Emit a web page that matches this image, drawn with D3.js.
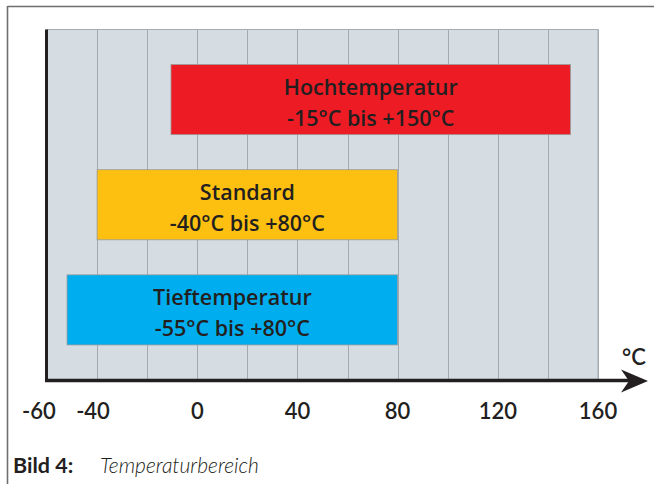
<!DOCTYPE html>
<html>
<head>
<meta charset="utf-8">
<script src="https://cdn.jsdelivr.net/npm/d3@7"></script>
<style>
  html, body { margin: 0; padding: 0; background: #fff; }
  svg { display: block; }
  text { font-family: Lato, "Open Sans", sans-serif; fill: #231f20; }
</style>
</head>
<body>
<svg id="chart" width="654" height="484"></svg>
<script>
// ---- data ----
const categories = ["Hochtemperatur", "Standard", "Tieftemperatur"];
const rangeLabels = ["-15°C bis +150°C", "-40°C bis +80°C", "-55°C bis +80°C"];
const barStart = [-10.5, -40, -52];
const barEnd = [149, 80, 80];
const tickValues = [-60, -40, 0, 40, 80, 120, 160];
const gridValues = [-40, -20, 0, 20, 40, 60, 80, 100, 120, 140, 160];
const unitLabel = "°C";
const captionNumber = "Bild 4:";
const captionText = "Temperaturbereich";

const svg = d3.select("#chart");
const color = d3.scaleOrdinal().domain(categories).range(["#ed1c24", "#fdc010", "#00aeef"]);

const x = d3.scaleLinear().domain([-60, 160]).range([47, 598]);
const y = d3.scaleBand().domain(categories).range([29.5, 380]).padding(1 / 3);

// frame
svg.append("line").attr("x1", 7.5).attr("x2", 654).attr("y1", 6.5).attr("y2", 6.5)
  .attr("stroke", "#6d6e71").attr("stroke-width", 1.6);
svg.append("line").attr("x1", 7.5).attr("x2", 7.5).attr("y1", 6).attr("y2", 484)
  .attr("stroke", "#6d6e71").attr("stroke-width", 1.6);

// plot background
svg.append("rect").attr("x", x(-60)).attr("y", 29.5)
  .attr("width", x(160) - x(-60)).attr("height", 380 - 29.5)
  .attr("fill", "#d5dde3").attr("stroke", "#a4aaaf").attr("stroke-width", 1);

// grid
svg.append("g").selectAll("line").data(gridValues).join("line")
  .attr("x1", d => Math.round(x(d)) + 0.5).attr("x2", d => Math.round(x(d)) + 0.5)
  .attr("y1", 29.5).attr("y2", 380)
  .attr("stroke", "#a4aaaf").attr("stroke-width", 1);

// bars
const bars = svg.append("g").selectAll("g").data(categories).join("g");
bars.append("rect")
  .attr("x", (d, i) => x(barStart[i]))
  .attr("y", d => y(d))
  .attr("width", (d, i) => x(barEnd[i]) - x(barStart[i]))
  .attr("height", y.bandwidth())
  .attr("fill", d => color(d))
  .attr("stroke", "#9a9a9a").attr("stroke-width", 0.8);
bars.append("text")
  .attr("x", (d, i) => (x(barStart[i]) + x(barEnd[i])) / 2)
  .attr("y", d => y(d) + 30)
  .attr("text-anchor", "middle")
  .style("font-family", "'Open Sans', Lato, sans-serif")
  .attr("font-size", 21.5).attr("font-weight", 600)
  .text(d => d);
bars.append("text")
  .attr("x", (d, i) => (x(barStart[i]) + x(barEnd[i])) / 2)
  .attr("y", d => y(d) + 61)
  .attr("text-anchor", "middle")
  .style("font-family", "'Open Sans', Lato, sans-serif")
  .attr("font-size", 21.5).attr("font-weight", 600)
  .text((d, i) => rangeLabels[i]);

// y axis line
svg.append("line").attr("x1", 46.5).attr("x2", 46.5).attr("y1", 29.5).attr("y2", 382)
  .attr("stroke", "#231f20").attr("stroke-width", 3);

// x axis with arrow
svg.append("line").attr("x1", 45).attr("x2", 632).attr("y1", 380.5).attr("y2", 380.5)
  .attr("stroke", "#231f20").attr("stroke-width", 3.5);
svg.append("path")
  .attr("d", "M648,381 L621,369.5 L629,381 L621,392.5 Z")
  .attr("fill", "#231f20");

// tick labels
const ticks = svg.append("g").selectAll("text").data(tickValues).join("text")
  .attr("x", d => x(d))
  .attr("y", 419)
  .attr("text-anchor", "middle")
  .attr("font-size", 22).attr("font-weight", 600)
  .text(d => d < 0 ? "-" + Math.abs(d) : String(d));
// center digits on the tick, letting minus sign hang left
ticks.each(function(d) {
  if (d < 0) {
    const full = this.getComputedTextLength();
    const t = svg.append("text").attr("font-size", 22).attr("font-weight", 600).text(String(Math.abs(d)));
    const digits = t.node().getComputedTextLength();
    t.remove();
    d3.select(this).attr("x", x(d) - (full - digits) / 2 - (d === -60 ? 4 : 0));
  }
});

// unit
svg.append("text").attr("x", 622).attr("y", 365)
  .attr("font-size", 22).attr("font-weight", 600).text(unitLabel);

// caption
svg.append("text").attr("x", 13).attr("y", 473)
  .attr("font-size", 21.5).attr("font-weight", 700).text(captionNumber);
svg.append("text").attr("x", 100).attr("y", 473)
  .attr("font-size", 21).attr("font-style", "italic").attr("font-weight", 300).text(captionText);
</script>
</body>
</html>
